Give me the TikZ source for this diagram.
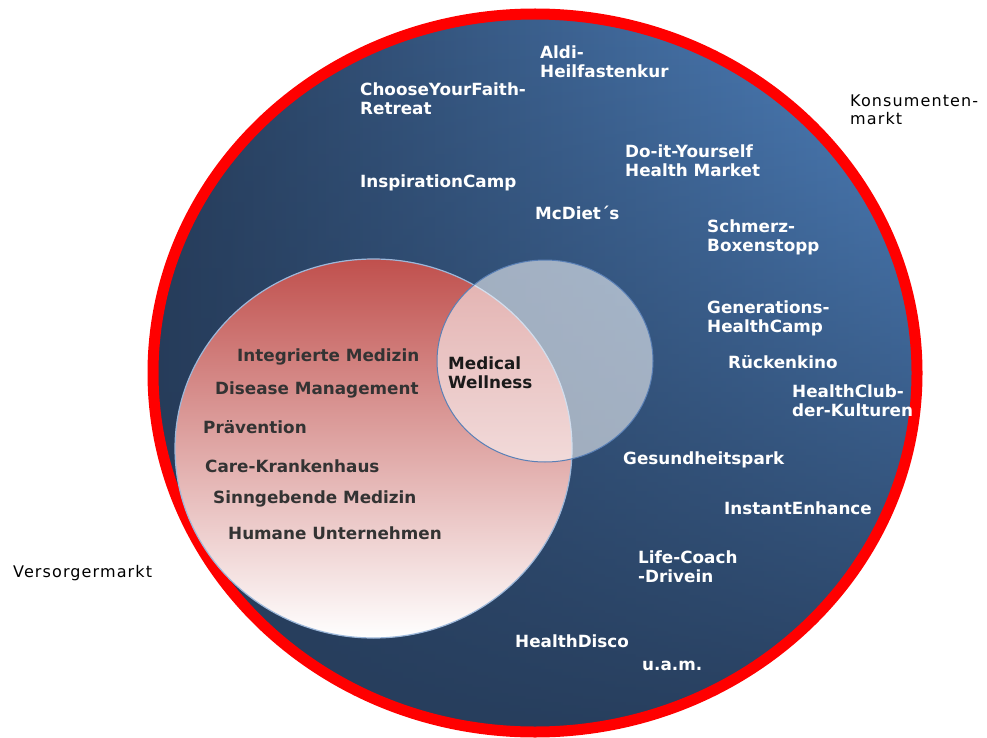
\documentclass[tikz,border=0pt]{standalone}
\usepackage{fontspec}
\setmainfont{DejaVu Sans}
\newfontfamily\spacedfont[LetterSpace=7]{DejaVu Sans}
\usetikzlibrary{fadings}
\definecolor{navyA}{HTML}{263C5A}
\definecolor{blueB}{HTML}{5084C2}
\definecolor{pinkTop}{HTML}{C0504D}
\definecolor{ringred}{HTML}{FF0000}
\definecolor{circleedge}{HTML}{5A80B6}
\definecolor{pinkedge}{HTML}{9DB8DA}
\definecolor{darktext}{HTML}{333333}
\definecolor{mwtext}{HTML}{1A1A1A}
\tikzfading[name=fadebottom, top color=transparent!100, middle color=transparent!70, bottom color=transparent!5]
\begin{document}
\begin{tikzpicture}[x=1pt,y=-1pt,
  wtxt/.style={anchor=west, inner sep=0pt, align=left, text=white, font=\bfseries\fontsize{16.8}{19}\selectfont},
  dtxt/.style={anchor=west, inner sep=0pt, align=left, text=darktext, font=\bfseries\fontsize{16.8}{19}\selectfont},
  mtxt/.style={anchor=west, inner sep=0pt, align=left, text=mwtext, font=\bfseries\fontsize{16.8}{19}\selectfont},
  btxt/.style={anchor=west, inner sep=0pt, align=left, text=black, font=\spacedfont\fontsize{16}{18}\selectfont}]
\useasboundingbox (0,0) rectangle (987,738);
% big market circle
\path[left color=navyA, right color=blueB] (535,373) ellipse [x radius=382pt, y radius=359pt];
\fill[navyA, path fading=fadebottom] (535,373) ellipse [x radius=382pt, y radius=359pt];
\draw[ringred, line width=11pt] (535,373) ellipse [x radius=382pt, y radius=359pt];
% Versorgermarkt circle
\shade[top color=pinkTop, bottom color=white] (373.5,448.5) ellipse [x radius=198.5pt, y radius=189.5pt];
\draw[pinkedge, line width=1.2pt] (373.5,448.5) ellipse [x radius=198.5pt, y radius=189.5pt];
% overlap circle
\fill[white, fill opacity=0.55] (545,361) ellipse [x radius=108pt, y radius=101pt];
\draw[circleedge, line width=1pt] (545,361) ellipse [x radius=108pt, y radius=101pt];
% white labels
\node[wtxt] (aldi) at (540,62) {Aldi-\\Heilfastenkur};
\node[wtxt] (choose) at (360,99) {ChooseYourFaith-\\Retreat};
\node[wtxt] (diy) at (625,160.5) {Do-it-Yourself\\Health Market};
\node[wtxt] (insp) at (360,183) {InspirationCamp};
\node[wtxt] (mcdiet) at (535,213) {McDiet´s};
\node[wtxt] (schmerz) at (707,237.5) {Schmerz-\\Boxenstopp};
\node[wtxt] (gen) at (707,318) {Generations-\\HealthCamp};
\node[wtxt] (ruecken) at (728,362) {Rückenkino};
\node[wtxt] (club) at (792,401) {HealthClub-\\der-Kulturen};
\node[wtxt] (gesund) at (623,460) {Gesundheitspark};
\node[wtxt] (instant) at (724,508) {InstantEnhance};
\node[wtxt] (life) at (638,567) {Life-Coach\\-Drivein};
\node[wtxt] (disco) at (515,641) {HealthDisco};
\node[wtxt] (uam) at (642,666) {u.a.m.};
% dark labels
\node[dtxt] (integ) at (237,357) {Integrierte Medizin};
\node[dtxt] (disease) at (215,390) {Disease Management};
\node[dtxt] (praev) at (203,427) {Prävention};
\node[dtxt] (care) at (205,466) {Care-Krankenhaus};
\node[dtxt] (sinn) at (213,499) {Sinngebende Medizin};
\node[dtxt] (humane) at (228,533) {Humane Unternehmen};
\node[mtxt] (mw) at (448,372.5) {Medical\\Wellness};
% outside labels
\node[btxt] (konsum) at (850,109.5) {Konsumenten-\\markt};
\node[btxt] (versorger) at (13,573) {Versorgermarkt};
\end{tikzpicture}
\end{document}
